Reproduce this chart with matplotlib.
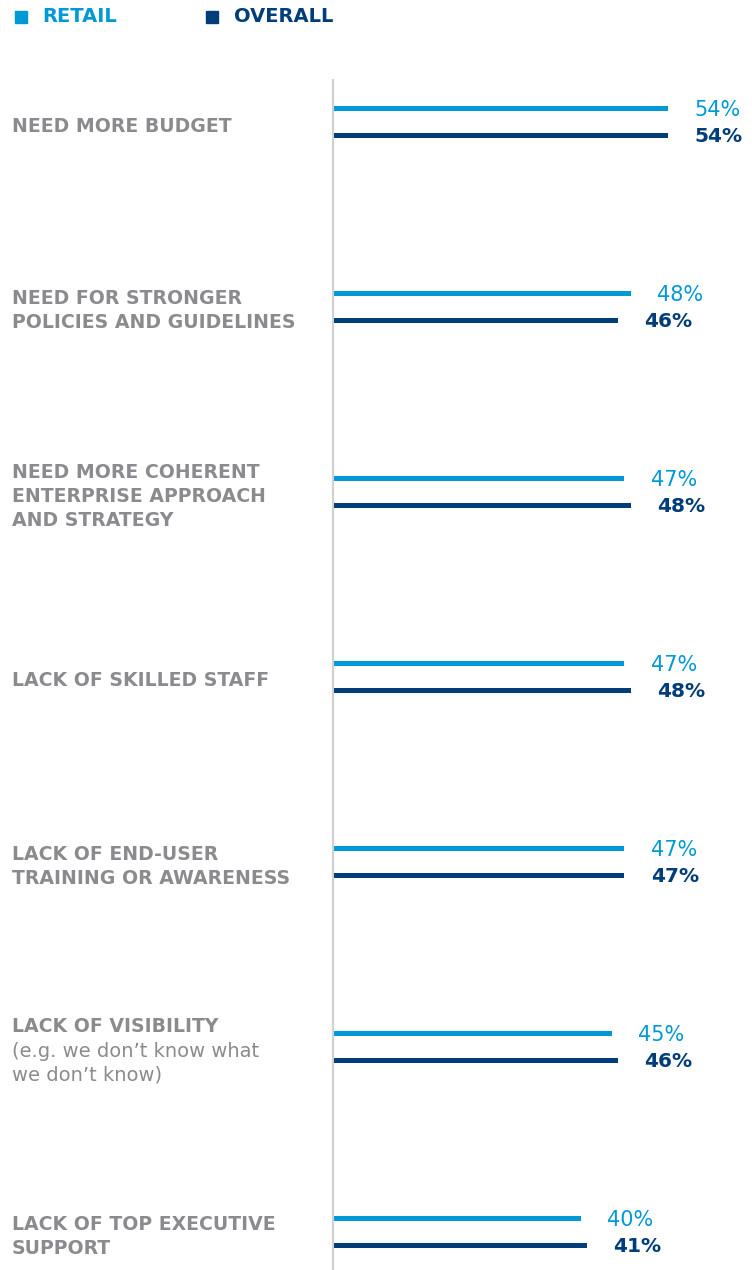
import matplotlib.pyplot as plt
from matplotlib.patches import Rectangle
from matplotlib.transforms import blended_transform_factory
import numpy as np

plt.rcParams['font.family'] = ['DejaVu Sans']

categories = [
    "NEED MORE BUDGET",
    "NEED FOR STRONGER\nPOLICIES AND GUIDELINES",
    "NEED MORE COHERENT\nENTERPRISE APPROACH\nAND STRATEGY",
    "LACK OF SKILLED STAFF",
    "LACK OF END-USER\nTRAINING OR AWARENESS",
    "LACK OF VISIBILITY",
    "LACK OF TOP EXECUTIVE\nSUPPORT",
]
subnotes = ["", "", "", "", "", "(e.g. we don\u2019t know what\nwe don\u2019t know)", ""]
retail = [54, 48, 47, 47, 47, 45, 40]
overall = [54, 46, 48, 48, 47, 46, 41]

LIGHT = '#0099d8'
NAVY = '#003d7a'
GREY = '#8b8b8f'

W, H = 752, 1270
fig = plt.figure(figsize=(W / 100, H / 100), dpi=100)

# axes in pixel geometry: vertical axis line at x=333, top y=80
ax_left, ax_top = 333, 80
ax = fig.add_axes([ax_left / W, 0, (W - ax_left) / W, (H - ax_top) / H])
px_per_pct = 6.2
ax.set_xlim(0, (W - ax_left) / px_per_pct)
spacing = 185.0
ax.set_ylim((H - 121.5) / spacing, -(121.5 - ax_top) / spacing)

y = np.arange(len(categories))
off = 13.5 / spacing
bh = 5 / spacing
ax.barh(y - off, retail, height=bh, color=LIGHT)
ax.barh(y + off, overall, height=bh, color=NAVY)

for i in range(len(categories)):
    ax.annotate(f"{retail[i]}%", (retail[i], y[i] - off), xytext=(19, -1.5),
                textcoords='offset points', va='center', ha='left',
                color=LIGHT, fontsize=15)
    ax.annotate(f"{overall[i]}%", (overall[i], y[i] + off), xytext=(19, -1),
                textcoords='offset points', va='center', ha='left',
                color=NAVY, fontsize=14.5, fontweight='bold')

# category labels, one text per line, 24 px line pitch
trans = blended_transform_factory(fig.transFigure, ax.transData)
lh = 24 / spacing
for i, (cat, note) in enumerate(zip(categories, subnotes)):
    lines = [(t, 'bold') for t in cat.split('\n')]
    if note:
        lines += [(t, 'normal') for t in note.split('\n')]
    n = len(lines)
    first = y[i] + 4.5 / spacing - (n - 1) * lh / 2
    for k, (t, wt) in enumerate(lines):
        ax.text(12 / W, first + k * lh, t, transform=trans, ha='left',
                va='center', color=GREY, fontweight=wt,
                fontsize=13.6 if wt == 'bold' else 14)

for s in ['top', 'right', 'bottom']:
    ax.spines[s].set_visible(False)
ax.spines['left'].set_color('#d0d0d0')
ax.spines['left'].set_linewidth(1.5)
ax.set_xticks([])
ax.set_yticks([])

# legend
fig.patches.append(Rectangle((15 / W, 1 - 23 / H), 12 / W, 12 / H,
                             transform=fig.transFigure, color=LIGHT))
fig.text(42 / W, 1 - 17 / H, "RETAIL", color=LIGHT, fontsize=14,
         fontweight='bold', va='center', ha='left')
fig.patches.append(Rectangle((206 / W, 1 - 23 / H), 12 / W, 12 / H,
                             transform=fig.transFigure, color=NAVY))
fig.text(234 / W, 1 - 17 / H, "OVERALL", color=NAVY, fontsize=14,
         fontweight='bold', va='center', ha='left')

fig.savefig('out.png', dpi=100)
